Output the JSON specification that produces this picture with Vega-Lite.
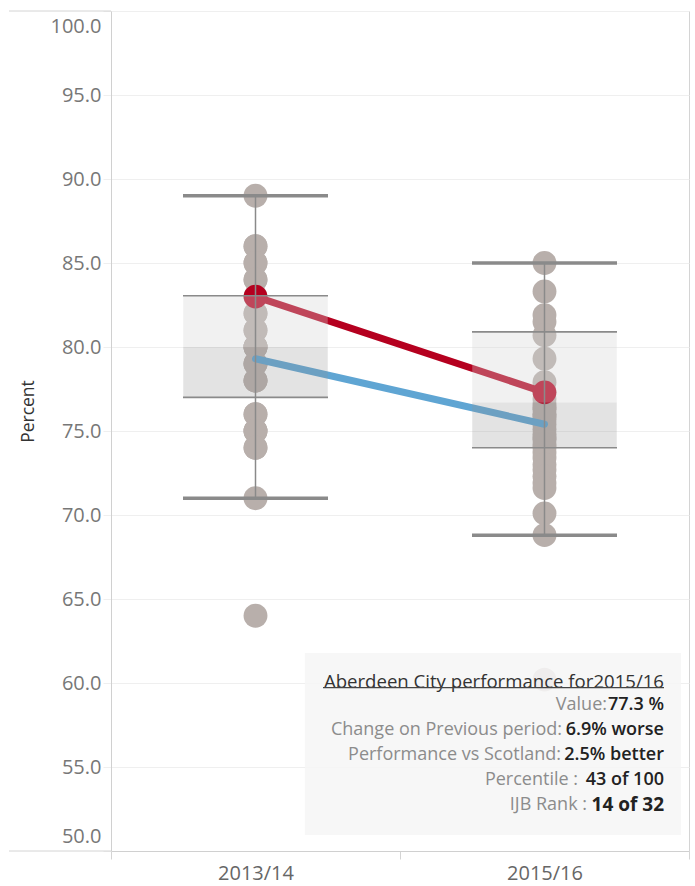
{
  "$schema": "https://vega.github.io/schema/vega-lite/v6.json",
  "width": 578,
  "height": 840,
  "autosize": {"type": "none"},
  "padding": {"left": 111, "top": 11, "right": 6, "bottom": 35},
  "background": "white",
  "config": {
    "view": {"stroke": "#d4d4d4", "strokeWidth": 1},
    "font": "Open Sans",
    "axis": {"labelFont": "Open Sans", "titleFont": "Open Sans"}
  },
  "datasets": {
    "pts": [
      {"period": "2013/14", "value": 89}, {"period": "2013/14", "value": 86}, {"period": "2013/14", "value": 86},
      {"period": "2013/14", "value": 85}, {"period": "2013/14", "value": 85}, {"period": "2013/14", "value": 84},
      {"period": "2013/14", "value": 84}, {"period": "2013/14", "value": 83}, {"period": "2013/14", "value": 83},
      {"period": "2013/14", "value": 82}, {"period": "2013/14", "value": 82}, {"period": "2013/14", "value": 81},
      {"period": "2013/14", "value": 81}, {"period": "2013/14", "value": 80}, {"period": "2013/14", "value": 80},
      {"period": "2013/14", "value": 80}, {"period": "2013/14", "value": 80}, {"period": "2013/14", "value": 79},
      {"period": "2013/14", "value": 79}, {"period": "2013/14", "value": 79}, {"period": "2013/14", "value": 78},
      {"period": "2013/14", "value": 78}, {"period": "2013/14", "value": 78}, {"period": "2013/14", "value": 76},
      {"period": "2013/14", "value": 76}, {"period": "2013/14", "value": 75}, {"period": "2013/14", "value": 75},
      {"period": "2013/14", "value": 75}, {"period": "2013/14", "value": 74}, {"period": "2013/14", "value": 74},
      {"period": "2013/14", "value": 71}, {"period": "2013/14", "value": 64},
      {"period": "2015/16", "value": 85.0}, {"period": "2015/16", "value": 83.3}, {"period": "2015/16", "value": 81.9},
      {"period": "2015/16", "value": 81.5}, {"period": "2015/16", "value": 80.7}, {"period": "2015/16", "value": 79.3},
      {"period": "2015/16", "value": 77.9}, {"period": "2015/16", "value": 77.3}, {"period": "2015/16", "value": 76.9},
      {"period": "2015/16", "value": 76.6}, {"period": "2015/16", "value": 76.4}, {"period": "2015/16", "value": 76.3},
      {"period": "2015/16", "value": 76.0}, {"period": "2015/16", "value": 75.9}, {"period": "2015/16", "value": 75.7},
      {"period": "2015/16", "value": 75.4}, {"period": "2015/16", "value": 75.1}, {"period": "2015/16", "value": 74.8},
      {"period": "2015/16", "value": 74.6}, {"period": "2015/16", "value": 74.5}, {"period": "2015/16", "value": 74.2},
      {"period": "2015/16", "value": 74.0}, {"period": "2015/16", "value": 73.7}, {"period": "2015/16", "value": 73.4},
      {"period": "2015/16", "value": 73.0}, {"period": "2015/16", "value": 72.7}, {"period": "2015/16", "value": 72.3},
      {"period": "2015/16", "value": 71.9}, {"period": "2015/16", "value": 71.6}, {"period": "2015/16", "value": 70.1},
      {"period": "2015/16", "value": 68.8}, {"period": "2015/16", "value": 60.2}
    ],
    "box": [
      {"period": "2013/14", "lo": 71.0, "q1": 77.0, "median": 80.0, "q3": 83.05, "hi": 89.0},
      {"period": "2015/16", "lo": 68.8, "q1": 74.0, "median": 76.7, "q3": 80.9, "hi": 85.0}
    ],
    "lines": [
      {"series": "Scotland", "period": "2013/14", "value": 79.3},
      {"series": "Scotland", "period": "2015/16", "value": 75.4},
      {"series": "Aberdeen City", "period": "2013/14", "value": 83.0},
      {"series": "Aberdeen City", "period": "2015/16", "value": 77.3}
    ]
  },
  "encoding": {
    "x": {
      "field": "period",
      "type": "nominal",
      "title": null,
      "scale": {"domain": ["2013/14", "2015/16"], "paddingInner": 0, "paddingOuter": 0},
      "axis": {
        "labelAngle": 0,
        "labelFontSize": 20,
        "labelColor": "#666666",
        "tickBand": "extent",
        "ticks": true,
        "tickSize": 8,
        "tickColor": "#d4d4d4",
        "domainColor": "#d0d0d0",
        "labelPadding": 4,
        "grid": false
      }
    }
  },
  "layer": [
    {
      "data": {"name": "pts"},
      "mark": {"type": "circle", "size": 570, "color": "#b8afab", "opacity": 1},
      "encoding": {
        "y": {
          "field": "value",
          "type": "quantitative",
          "title": "Percent",
          "scale": {"domain": [50, 100], "nice": false, "zero": false},
          "axis": {
            "values": [50, 55, 60, 65, 70, 75, 80, 85, 90, 95, 100],
            "format": ".1f",
            "labelFontSize": 20,
            "labelColor": "#777777",
            "labelFlush": true,
            "labelFlushOffset": -5,
            "grid": true,
            "gridColor": "#efefef",
            "tickColor": "#efefef",
            "tickSize": 8,
            "labelPadding": 2,
            "domainColor": "#d0d0d0",
            "titleFontSize": 17.5,
            "titleColor": "#333333",
            "titleFontWeight": "normal",
            "titlePadding": 13,
            "titleY": 400
          }
        }
      }
    },
    {
      "data": {"values": [{"edge": 100}, {"edge": 50}]},
      "mark": {"type": "rule", "strokeWidth": 1, "color": "#d4d4d4"},
      "encoding": {
        "x": {"datum": "2013/14", "bandPosition": -0.353},
        "x2": {"datum": "2013/14", "bandPosition": 0},
        "y": {"field": "edge", "type": "quantitative"}
      }
    },
    {
      "data": {"name": "lines"},
      "mark": {"type": "line", "strokeWidth": 7, "strokeCap": "round"},
      "encoding": {
        "y": {"field": "value", "type": "quantitative"},
        "color": {
          "field": "series",
          "type": "nominal",
          "scale": {"domain": ["Scotland", "Aberdeen City"], "range": ["#5fa5d3", "#b5001f"]},
          "legend": null
        }
      }
    },
    {
      "data": {"name": "lines"},
      "transform": [{"filter": "datum.series === 'Aberdeen City'"}],
      "mark": {"type": "circle", "size": 560, "color": "#b5001f", "opacity": 1},
      "encoding": {"y": {"field": "value", "type": "quantitative"}}
    },
    {
      "data": {"name": "box"},
      "mark": {"type": "bar", "width": {"band": 0.5}, "color": "#d6d6d6", "opacity": 0.33},
      "encoding": {"y": {"field": "median", "type": "quantitative"}, "y2": {"field": "q3"}}
    },
    {
      "data": {"name": "box"},
      "mark": {"type": "bar", "width": {"band": 0.5}, "color": "#939393", "opacity": 0.26},
      "encoding": {"y": {"field": "q1", "type": "quantitative"}, "y2": {"field": "median"}}
    },
    {
      "data": {"name": "box"},
      "transform": [{"fold": ["q1", "q3"], "as": ["k", "v"]}],
      "mark": {"type": "tick", "size": 145, "thickness": 1.6, "color": "#8a8a8a", "opacity": 1},
      "encoding": {"y": {"field": "v", "type": "quantitative"}}
    },
    {
      "data": {"name": "box"},
      "mark": {"type": "rule", "strokeWidth": 1.5, "color": "#8a8a8a"},
      "encoding": {"y": {"field": "lo", "type": "quantitative"}, "y2": {"field": "hi"}}
    },
    {
      "data": {"name": "box"},
      "transform": [{"fold": ["lo", "hi"], "as": ["k", "v"]}],
      "mark": {"type": "tick", "size": 145, "thickness": 3.5, "color": "#8a8a8a", "opacity": 1},
      "encoding": {"y": {"field": "v", "type": "quantitative"}}
    },
    {
      "data": {"values": [{"t": "panel"}]},
      "mark": {"type": "rect", "color": "#f6f6f6", "opacity": 0.88},
      "encoding": {
        "x": {"datum": "2013/14", "bandPosition": 0.671},
        "x2": {"datum": "2015/16", "bandPosition": 0.972},
        "y": {"datum": 61.79, "type": "quantitative"},
        "y2": {"datum": 50.95}
      }
    },
    {
      "data": {"values": [{"t": "Aberdeen City performance for2015/16"}]},
      "mark": {"type": "text", "align": "right", "baseline": "middle", "fontSize": 18.6, "color": "#333333"},
      "encoding": {
        "x": {"datum": "2015/16", "bandPosition": 0.9135},
        "y": {"datum": 60.06, "type": "quantitative"},
        "text": {"field": "t"}
      }
    },
    {
      "data": {"values": [{"t": "underline"}]},
      "mark": {"type": "rule", "strokeWidth": 1.2, "color": "#444444"},
      "encoding": {
        "x": {"datum": "2013/14", "bandPosition": 0.7336},
        "x2": {"datum": "2015/16", "bandPosition": 0.9135},
        "y": {"datum": 59.72, "type": "quantitative"}
      }
    },
    {
      "data": {"values": [{"t": "Value:"}]},
      "mark": {"type": "text", "align": "right", "baseline": "middle", "fontSize": 18, "color": "#8c8c8c", "dx": -57},
      "encoding": {"x": {"datum": "2015/16", "bandPosition": 0.9135}, "y": {"datum": 58.69, "type": "quantitative"}, "text": {"field": "t"}}
    },
    {
      "data": {"values": [{"t": "77.3 %"}]},
      "mark": {"type": "text", "align": "right", "baseline": "middle", "fontSize": 18, "fontWeight": 600, "color": "#222222"},
      "encoding": {"x": {"datum": "2015/16", "bandPosition": 0.9135}, "y": {"datum": 58.69, "type": "quantitative"}, "text": {"field": "t"}}
    },
    {
      "data": {"values": [{"t": "Change on Previous period:"}]},
      "mark": {"type": "text", "align": "right", "baseline": "middle", "fontSize": 18, "color": "#8c8c8c", "dx": -102},
      "encoding": {"x": {"datum": "2015/16", "bandPosition": 0.9135}, "y": {"datum": 57.2, "type": "quantitative"}, "text": {"field": "t"}}
    },
    {
      "data": {"values": [{"t": "6.9% worse"}]},
      "mark": {"type": "text", "align": "right", "baseline": "middle", "fontSize": 18, "fontWeight": 600, "color": "#222222"},
      "encoding": {"x": {"datum": "2015/16", "bandPosition": 0.9135}, "y": {"datum": 57.2, "type": "quantitative"}, "text": {"field": "t"}}
    },
    {
      "data": {"values": [{"t": "Performance vs Scotland:"}]},
      "mark": {"type": "text", "align": "right", "baseline": "middle", "fontSize": 18, "color": "#8c8c8c", "dx": -103},
      "encoding": {"x": {"datum": "2015/16", "bandPosition": 0.9135}, "y": {"datum": 55.71, "type": "quantitative"}, "text": {"field": "t"}}
    },
    {
      "data": {"values": [{"t": "2.5% better"}]},
      "mark": {"type": "text", "align": "right", "baseline": "middle", "fontSize": 18, "fontWeight": 600, "color": "#222222"},
      "encoding": {"x": {"datum": "2015/16", "bandPosition": 0.9135}, "y": {"datum": 55.71, "type": "quantitative"}, "text": {"field": "t"}}
    },
    {
      "data": {"values": [{"t": "Percentile :"}]},
      "mark": {"type": "text", "align": "right", "baseline": "middle", "fontSize": 18, "color": "#8c8c8c", "dx": -86},
      "encoding": {"x": {"datum": "2015/16", "bandPosition": 0.9135}, "y": {"datum": 54.23, "type": "quantitative"}, "text": {"field": "t"}}
    },
    {
      "data": {"values": [{"t": "43 of 100"}]},
      "mark": {"type": "text", "align": "right", "baseline": "middle", "fontSize": 18, "fontWeight": 600, "color": "#222222"},
      "encoding": {"x": {"datum": "2015/16", "bandPosition": 0.9135}, "y": {"datum": 54.23, "type": "quantitative"}, "text": {"field": "t"}}
    },
    {
      "data": {"values": [{"t": "IJB Rank :"}]},
      "mark": {"type": "text", "align": "right", "baseline": "middle", "fontSize": 18, "color": "#8c8c8c", "dx": -77},
      "encoding": {"x": {"datum": "2015/16", "bandPosition": 0.9135}, "y": {"datum": 52.74, "type": "quantitative"}, "text": {"field": "t"}}
    },
    {
      "data": {"values": [{"t": "14 of 32"}]},
      "mark": {"type": "text", "align": "right", "baseline": "middle", "fontSize": 19, "fontWeight": 700, "color": "#222222"},
      "encoding": {"x": {"datum": "2015/16", "bandPosition": 0.9135}, "y": {"datum": 52.74, "type": "quantitative"}, "text": {"field": "t"}}
    }
  ]
}
